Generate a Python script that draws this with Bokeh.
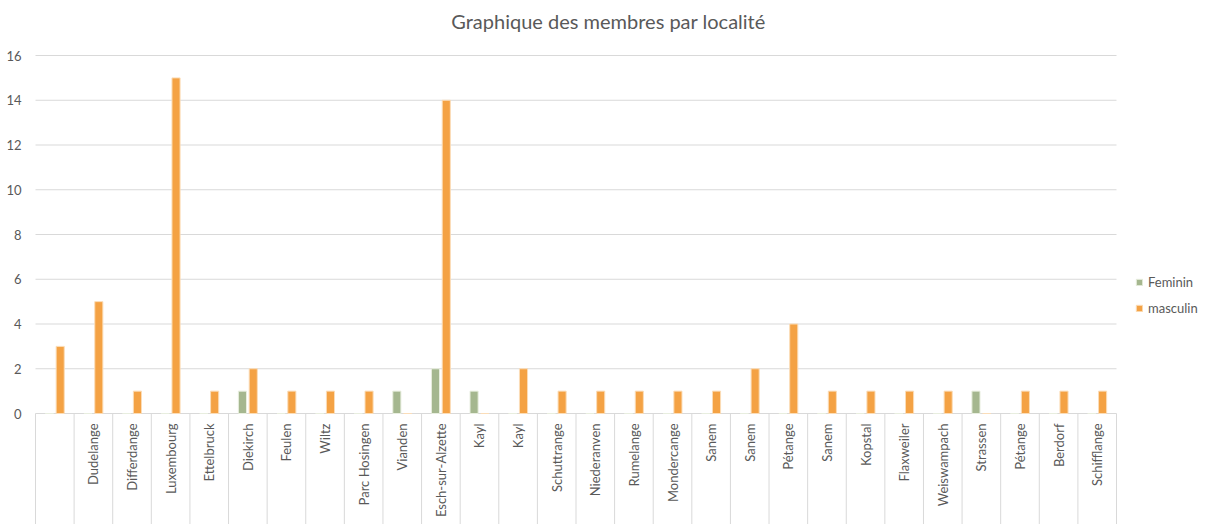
from bokeh.plotting import figure
from bokeh.models import ColumnDataSource, Legend, LegendItem, Range1d, Label
from bokeh.core.properties import value
from bokeh.embed import file_html
from bokeh.resources import INLINE
import math

title = "Graphique des membres par localité"
categories = ["", "Dudelange", "Differdange", "Luxembourg", "Ettelbruck", "Diekirch", "Feulen",
              "Wiltz", "Parc Hosingen", "Vianden", "Esch-sur-Alzette", "Kayl", "Kayl",
              "Schuttrange", "Niederanven", "Rumelange", "Mondercange", "Sanem", "Sanem",
              "Pétange", "Sanem", "Kopstal", "Flaxweiler", "Weiswampach", "Strassen",
              "Pétange", "Berdorf", "Schifflange"]
feminin = [0, 0, 0, 0, 0, 1, 0, 0, 0, 1, 2, 1, 0, 0, 0, 0, 0, 0, 0, 0, 0, 0, 0, 0, 1, 0, 0, 0]
masculin = [3, 5, 1, 15, 1, 2, 1, 1, 1, 0, 14, 0, 2, 1, 1, 1, 1, 1, 2, 4, 1, 1, 1, 1, 0, 1, 1, 1]
y_ticks = [0, 2, 4, 6, 8, 10, 12, 14, 16]

n = len(categories)
idx = list(range(n))
centers = [i + 0.5 for i in idx]
x_f = [c - 0.14 for c in centers]
x_m = [c + 0.14 for c in centers]
bounds = [float(i) for i in range(n + 1)]

GREEN = "#A5B78F"
ORANGE = "#F4A244"
GRID = "#D9D9D9"
TEXT = "#595959"
FONT = "Lato"

W, H = 1211, 524
# plot area: x 35..1116 px for the 28 categories, y 413 (0) .. 55 (16) px
PX_PER_CAT = (1116 - 35) / n
PX_PER_UNIT = (413 - 55) / 16
X_START = -35 / PX_PER_CAT
X_END = (W - 35) / PX_PER_CAT
Y_END = 413 / PX_PER_UNIT
Y_START = -(H - 413) / PX_PER_UNIT

p = figure(width=W, height=H, output_backend="svg", toolbar_location=None,
           x_range=Range1d(X_START, X_END), y_range=Range1d(Y_START, Y_END),
           x_axis_location=None, y_axis_location=None,
           min_border=0, min_border_left=0, min_border_right=0,
           min_border_top=0, min_border_bottom=0)

p.outline_line_color = None
p.xgrid.grid_line_color = None
p.ygrid.grid_line_color = None

# gridlines (only over the category area)
p.segment(x0=[0] * len(y_ticks), x1=[n] * len(y_ticks), y0=y_ticks, y1=y_ticks,
          line_color=GRID, line_width=1)
# category separators below the axis
p.segment(x0=bounds, x1=bounds, y0=[0] * len(bounds), y1=[Y_START] * len(bounds),
          line_color=GRID, line_width=1)

src = ColumnDataSource(dict(xf=x_f, xm=x_m, f=feminin, m=masculin))
rf = p.vbar(x="xf", top="f", width=0.21, bottom=0, source=src, fill_color=GREEN,
            line_color="#E8EEDF", line_width=1)
rm = p.vbar(x="xm", top="m", width=0.21, bottom=0, source=src, fill_color=ORANGE,
            line_color="#FBDDB8", line_width=1)

# category labels
lab_src = ColumnDataSource(dict(x=centers, y=[0] * n, t=categories))
p.text(x="x", y="y", text="t", source=lab_src, angle=math.pi / 2,
       text_align="right", text_baseline="middle", y_offset=10,
       text_font=value(FONT), text_font_size="13px", text_color=TEXT)

# value-axis labels
ytl_src = ColumnDataSource(dict(x=[0] * len(y_ticks), y=y_ticks, t=[str(v) for v in y_ticks]))
p.text(x="x", y="y", text="t", source=ytl_src, x_offset=-14,
       text_align="right", text_baseline="middle",
       text_font=value(FONT), text_font_size="13px", text_color=TEXT)

# title
p.add_layout(Label(x=608, y=H - 20, x_units="screen", y_units="screen", text=title,
                   text_align="center", text_baseline="middle",
                   text_font=FONT, text_font_size="20px", text_color=TEXT))

legend = Legend(items=[LegendItem(label="Feminin", renderers=[rf]),
                       LegendItem(label="masculin", renderers=[rm])],
                location=(1135, 208), orientation="vertical",
                glyph_width=8, glyph_height=8, label_standoff=5, spacing=10,
                padding=2, margin=0, label_width=60,
                label_text_font=FONT, label_text_font_size="13px", label_text_color=TEXT,
                border_line_color=None, background_fill_alpha=0)
p.add_layout(legend)

open("out.html", "w").write(file_html(p, INLINE))
